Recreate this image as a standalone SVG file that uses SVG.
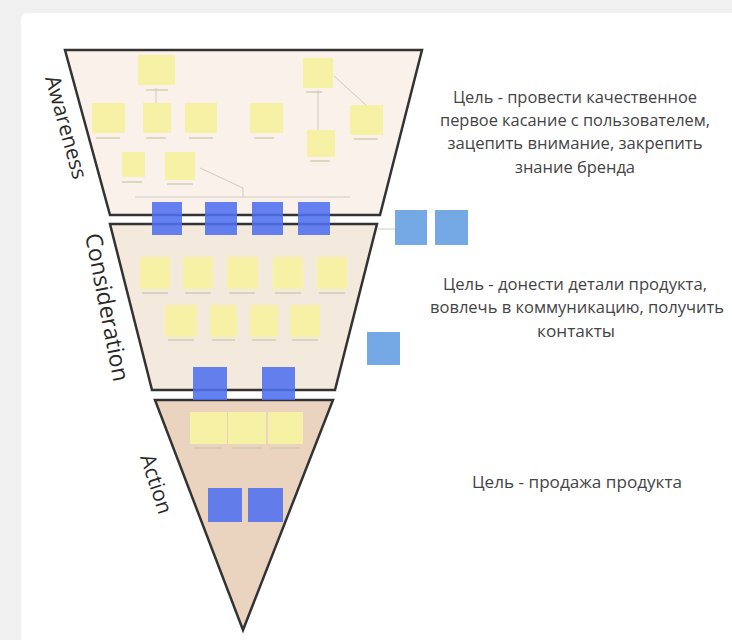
<svg xmlns="http://www.w3.org/2000/svg" width="732" height="640" viewBox="0 0 732 640">
<style>
.st{fill:#f6f1a4}
.ft{stroke:#c9c6a8;stroke-width:1.2}
.bd{fill:#4f6ff0;opacity:0.88}
.bl{fill:#74a9e6}
.fn{stroke:#333;stroke-width:2.5;stroke-linejoin:miter}
.lbl{font-family:"Open Sans","DejaVu Sans",sans-serif;font-size:21px;fill:#2a2a2a}
.txt{font-family:"Open Sans","DejaVu Sans",sans-serif;font-size:16px;fill:#444;text-anchor:middle}
.cn{stroke:#cfcbc4;stroke-width:1;fill:none}
</style>
<rect width="732" height="640" fill="#f0f0f0"/>
<rect x="21" y="13" width="720" height="640" rx="6" fill="#ffffff"/>

<g id="funnel">
<polygon id="awareness" class="fn" points="65,50 422,50 380,215 110,215" fill="#f9f1ea"/>
<polygon id="consideration" class="fn" points="110,224 377,224 335,390 152,390" fill="#f3e9dd"/>
<polygon id="action" class="fn" points="155,400 333,400 243,630" fill="#ebd4bf"/>
</g>

<g id="connectors">
<line class="cn" x1="156" y1="88" x2="156" y2="103"/>
<line class="cn" x1="135" y1="197" x2="350" y2="197"/>
<polyline class="cn" points="200,168 243,188 243,197"/>
<line class="cn" x1="318" y1="90" x2="318" y2="130"/>
<line class="cn" x1="334" y1="76" x2="366" y2="105"/>
<line class="cn" x1="378" y1="229" x2="395" y2="229"/>
</g>

<g id="labels">
<text class="lbl" transform="translate(45,78) rotate(74.5)">Awareness</text>
<text class="lbl" style="font-size:23px" transform="translate(85,235) rotate(79)">Consideration</text>
<text class="lbl" transform="translate(140,457) rotate(72)">Action</text>
</g>

<g id="aw1"><rect class="st" x="138" y="55" width="37" height="30"/><line class="ft" x1="146" y1="90" x2="168" y2="90"/></g>
<g id="aw2"><rect class="st" x="303" y="58" width="30" height="30"/><line class="ft" x1="306" y1="92" x2="322" y2="92"/></g>
<g id="aw3"><rect class="st" x="92" y="103" width="33" height="30"/><line class="ft" x1="96" y1="138" x2="120" y2="138"/></g>
<g id="aw4"><rect class="st" x="143" y="103" width="28" height="30"/><line class="ft" x1="146" y1="138" x2="166" y2="138"/></g>
<g id="aw5"><rect class="st" x="185" y="103" width="32" height="30"/><line class="ft" x1="189" y1="138" x2="213" y2="138"/></g>
<g id="aw6"><rect class="st" x="250" y="103" width="33" height="30"/><line class="ft" x1="254" y1="138" x2="274" y2="138"/></g>
<g id="aw7"><rect class="st" x="350" y="105" width="33" height="30"/><line class="ft" x1="354" y1="139" x2="378" y2="139"/></g>
<g id="aw8"><rect class="st" x="307" y="130" width="28" height="27"/><line class="ft" x1="310" y1="161" x2="330" y2="161"/></g>
<g id="aw9"><rect class="st" x="122" y="152" width="23" height="25"/><line class="ft" x1="122" y1="182" x2="142" y2="182"/></g>
<g id="aw10"><rect class="st" x="165" y="152" width="30" height="28"/><line class="ft" x1="167" y1="184" x2="193" y2="184"/></g>

<g id="co1"><rect class="st" x="140" y="257" width="30" height="32"/><line class="ft" x1="142" y1="293" x2="168" y2="293"/></g>
<g id="co2"><rect class="st" x="183" y="257" width="30" height="32"/><line class="ft" x1="185" y1="293" x2="211" y2="293"/></g>
<g id="co3"><rect class="st" x="227" y="257" width="31" height="32"/><line class="ft" x1="229" y1="293" x2="255" y2="293"/></g>
<g id="co4"><rect class="st" x="273" y="257" width="30" height="32"/><line class="ft" x1="275" y1="293" x2="301" y2="293"/></g>
<g id="co5"><rect class="st" x="317" y="257" width="30" height="32"/><line class="ft" x1="319" y1="293" x2="345" y2="293"/></g>
<g id="co6"><rect class="st" x="165" y="305" width="32" height="32"/><line class="ft" x1="168" y1="340" x2="194" y2="340"/></g>
<g id="co7"><rect class="st" x="210" y="305" width="27" height="32"/><line class="ft" x1="212" y1="340" x2="235" y2="340"/></g>
<g id="co8"><rect class="st" x="250" y="305" width="28" height="32"/><line class="ft" x1="252" y1="340" x2="276" y2="340"/></g>
<g id="co9"><rect class="st" x="290" y="305" width="30" height="32"/><line class="ft" x1="292" y1="340" x2="318" y2="340"/></g>

<g id="ac1"><rect class="st" x="190" y="412" width="37" height="32"/><line class="ft" x1="194" y1="448" x2="222" y2="448"/></g>
<g id="ac2"><rect class="st" x="228" y="412" width="38" height="32"/><line class="ft" x1="232" y1="448" x2="262" y2="448"/></g>
<g id="ac3"><rect class="st" x="268" y="412" width="35" height="32"/><line class="ft" x1="271" y1="448" x2="300" y2="448"/></g>

<g id="b1"><rect class="bd" x="152" y="202" width="30" height="33"/></g>
<g id="b2"><rect class="bd" x="205" y="202" width="32" height="33"/></g>
<g id="b3"><rect class="bd" x="252" y="202" width="31" height="33"/></g>
<g id="b4"><rect class="bd" x="298" y="202" width="32" height="33"/></g>
<g id="b5"><rect class="bd" x="193" y="367" width="34" height="33"/></g>
<g id="b6"><rect class="bd" x="262" y="367" width="33" height="33"/></g>
<g id="b7"><rect class="bd" x="208" y="488" width="34" height="34"/></g>
<g id="b8"><rect class="bd" x="248" y="488" width="35" height="34"/></g>

<g id="lb1"><rect class="bl" x="395" y="210" width="32" height="35"/></g>
<g id="lb2"><rect class="bl" x="435" y="210" width="33" height="35"/></g>
<g id="lb3"><rect class="bl" x="367" y="332" width="33" height="33"/></g>

<g id="goal1">
<text class="txt" x="575" y="103" textLength="244" lengthAdjust="spacingAndGlyphs">Цель - провести качественное</text>
<text class="txt" x="575" y="126" textLength="270" lengthAdjust="spacingAndGlyphs">первое касание с пользователем,</text>
<text class="txt" x="575" y="149" textLength="255" lengthAdjust="spacingAndGlyphs">зацепить внимание, закрепить</text>
<text class="txt" x="575" y="173" textLength="120" lengthAdjust="spacingAndGlyphs">знание бренда</text>
</g>
<g id="goal2">
<text class="txt" x="575" y="290" textLength="264" lengthAdjust="spacingAndGlyphs">Цель - донести детали продукта,</text>
<text class="txt" x="577" y="313" textLength="294" lengthAdjust="spacingAndGlyphs">вовлечь в коммуникацию, получить</text>
<text class="txt" x="576" y="337" textLength="78" lengthAdjust="spacingAndGlyphs">контакты</text>
</g>
<g id="goal3">
<text class="txt" x="577" y="488" textLength="210" lengthAdjust="spacingAndGlyphs">Цель - продажа продукта</text>
</g>
</svg>
